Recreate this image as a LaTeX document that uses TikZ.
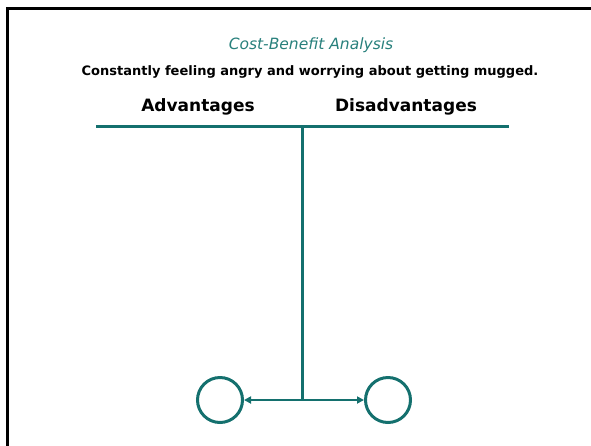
\documentclass[tikz,border=0pt]{standalone}
\usepackage{fontspec}
\setmainfont{DejaVu Sans}
\usetikzlibrary{
  arrows.meta,
  positioning,  % relative placement
}
\definecolor{tealline}{RGB}{20,112,110}
\definecolor{tealtext}{RGB}{40,128,124}
\tikzset{
  semithick,
  >={Triangle[length=7pt,width=7pt]},
  frame/.style={
    draw=black,
    line width=3pt
  },
  tline/.style={
    draw=tealline,
    line width=3pt
  },
  outcome/.style={
    circle,
    draw=tealline,
    line width=3pt,
    minimum size=45pt,
    inner sep=0pt
  },
  heading/.style={
    font=\bfseries\fontsize{17}{20}\selectfont
  }
}

\begin{document}
\begin{tikzpicture}[x=1pt,y=-1pt]
\useasboundingbox (0,0) rectangle (591,445);
\draw[frame] (7,450) -- (7,8) -- (596,8);
% titles
\node[text=tealtext,font=\itshape\fontsize{15.5}{18}\selectfont] (title) at (311,45) {Cost-Benefit Analysis};
\node[font=\bfseries\fontsize{13}{16}\selectfont] (subject) at (310,72) {Constantly feeling angry and worrying about getting mugged.};
\node[heading] (adv) at (198,107) {Advantages};
\node[heading] (dis) at (406,107) {Disadvantages};
% the T
\coordinate (tl) at (96,126);
\coordinate (tr) at (509,126);
\coordinate (tm) at (302,126);
\coordinate (fork) at (302,400);
\node[outcome] (left)  at (220,400) {};
\node[outcome] (right) at (388,400) {};
\draw[tline] (tl) -- (tr);
\draw[tline] (tm) -- (fork);
\draw[tline,->,line width=2.6pt] (fork) -- (left);
\draw[tline,->,line width=2.6pt] (fork) -- (right);
\end{tikzpicture}
\end{document}
